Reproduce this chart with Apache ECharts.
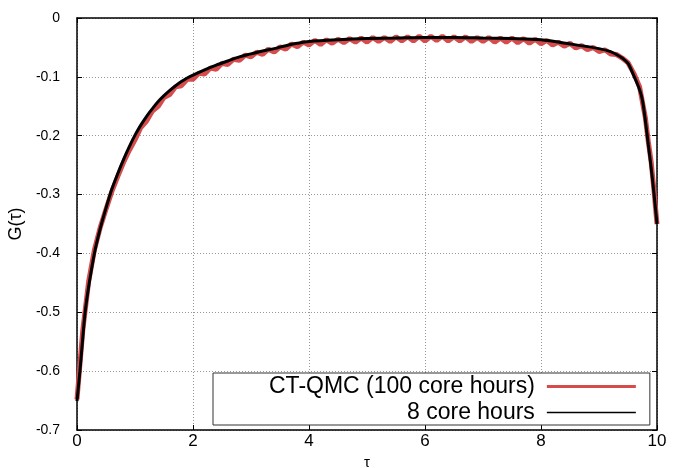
<!DOCTYPE html>
<html>
<head>
<meta charset="utf-8">
<script src="https://cdn.jsdelivr.net/npm/echarts@6/dist/echarts.min.js"></script>
<style>
html,body{margin:0;padding:0;background:#fff;}
#chart{width:680px;height:468px;}
</style>
</head>
<body>
<div id="chart"></div>
<script>
// Black curve: 8 core hours
const tauBlack = [0, 0.05, 0.1, 0.14, 0.2, 0.3, 0.4, 0.5, 0.6, 0.7, 0.8, 0.9, 1.0, 1.1, 1.2, 1.3, 1.4, 1.5, 1.6, 1.7, 1.8, 1.9, 2.0, 2.2, 2.4, 2.6, 2.8, 3.0, 3.2, 3.4, 3.6, 3.8, 4.0, 4.5, 5.0, 5.5, 6.0, 6.5, 7.0, 7.5, 8.0, 8.5, 9.0, 9.2, 9.3, 9.4, 9.5, 9.6, 9.7, 9.75, 9.8, 9.85, 9.9, 9.95, 10.0];
const gBlack = [-0.651, -0.600, -0.543, -0.500, -0.457, -0.400, -0.358, -0.323, -0.291, -0.265, -0.241, -0.219, -0.199, -0.182, -0.167, -0.154, -0.142, -0.132, -0.123, -0.115, -0.108, -0.102, -0.097, -0.088, -0.080, -0.073, -0.066, -0.061, -0.056, -0.052, -0.047, -0.043, -0.040, -0.037, -0.035, -0.034, -0.033, -0.033, -0.034, -0.035, -0.037, -0.044, -0.052, -0.057, -0.062, -0.068, -0.077, -0.098, -0.122, -0.140, -0.175, -0.215, -0.255, -0.300, -0.350];

// Red curve: CT-QMC (100 core hours), noisy
const tauRed = [0.0, 0.1, 0.2, 0.3, 0.4, 0.5, 0.6, 0.7, 0.8, 0.9, 1.0, 1.1, 1.2, 1.3, 1.4, 1.5, 1.6, 1.7, 1.8, 1.9, 2.0, 2.1, 2.2, 2.3, 2.4, 2.5, 2.6, 2.7, 2.8, 2.9, 3.0, 3.1, 3.2, 3.3, 3.4, 3.5, 3.6, 3.7, 3.8, 3.9, 4.0, 4.1, 4.2, 4.3, 4.4, 4.5, 4.6, 4.7, 4.8, 4.9, 5.0, 5.1, 5.2, 5.3, 5.4, 5.5, 5.6, 5.7, 5.8, 5.9, 6.0, 6.1, 6.2, 6.3, 6.4, 6.5, 6.6, 6.7, 6.8, 6.9, 7.0, 7.1, 7.2, 7.3, 7.4, 7.5, 7.6, 7.7, 7.8, 7.9, 8.0, 8.1, 8.2, 8.3, 8.4, 8.5, 8.6, 8.7, 8.8, 8.9, 9.0, 9.1, 9.2, 9.3, 9.4, 9.5, 9.6, 9.7, 9.8, 9.85, 9.9, 9.95, 10.0];
const gRed = [-0.648, -0.530, -0.448, -0.394, -0.356, -0.325, -0.295, -0.270, -0.246, -0.225, -0.207, -0.186, -0.175, -0.158, -0.150, -0.135, -0.130, -0.117, -0.115, -0.104, -0.104, -0.094, -0.095, -0.085, -0.087, -0.077, -0.079, -0.070, -0.072, -0.063, -0.066, -0.058, -0.062, -0.053, -0.058, -0.049, -0.053, -0.044, -0.049, -0.041, -0.046, -0.038, -0.045, -0.037, -0.043, -0.036, -0.042, -0.035, -0.041, -0.034, -0.041, -0.033, -0.040, -0.033, -0.040, -0.032, -0.039, -0.032, -0.039, -0.031, -0.039, -0.031, -0.038, -0.031, -0.039, -0.032, -0.039, -0.032, -0.040, -0.033, -0.040, -0.033, -0.041, -0.034, -0.041, -0.034, -0.042, -0.035, -0.043, -0.036, -0.044, -0.038, -0.046, -0.041, -0.048, -0.043, -0.051, -0.047, -0.054, -0.050, -0.057, -0.054, -0.061, -0.062, -0.068, -0.076, -0.094, -0.117, -0.170, -0.210, -0.245, -0.295, -0.350];

const seriesNames = ['CT-QMC (100 core hours)', '8 core hours'];
const xTitle = 'τ';
const yTitle = 'G(τ)';

const zip = (a, b) => a.map((v, i) => [v, b[i]]);
const FONT = 'Liberation Sans, Arial, Helvetica, sans-serif';
const RED = '#d64b4b';

const chart = echarts.init(document.getElementById('chart'), null, {renderer: 'canvas'});
const gridLine = {show: true, lineStyle: {color: '#999', type: [1, 2], width: 1}};
chart.setOption({
  animation: false,
  backgroundColor: '#fff',
  grid: {left: 77, right: 23, top: 18, bottom: 38, containLabel: false, outerBoundsMode: 'none'},
  xAxis: [{
    type: 'value', min: 0, max: 10, interval: 2,
    name: xTitle, nameLocation: 'middle', nameGap: 25,
    nameTextStyle: {fontFamily: FONT, fontSize: 15, color: '#000'},
    axisLine: {show: true, onZero: false, lineStyle: {color: '#000', width: 1.5}},
    axisTick: {show: true, inside: true, length: 5, lineStyle: {color: '#000', width: 1}},
    axisLabel: {fontFamily: FONT, fontSize: 17, color: '#000', margin: 3},
    splitLine: gridLine
  }, {
    type: 'value', min: 0, max: 10, interval: 2, position: 'top',
    axisLine: {show: true, onZero: false, lineStyle: {color: '#000', width: 1.5}},
    axisTick: {show: true, inside: true, length: 5, lineStyle: {color: '#000', width: 1}},
    axisLabel: {show: false}, splitLine: {show: false}
  }],
  yAxis: [{
    type: 'value', min: -0.7, max: 0, interval: 0.1,
    name: yTitle, nameLocation: 'middle', nameGap: 40, nameRotate: 90,
    nameTextStyle: {fontFamily: FONT, fontSize: 18, color: '#000'},
    axisLine: {show: true, onZero: false, lineStyle: {color: '#000', width: 1.5}},
    axisTick: {show: true, inside: true, length: 5, lineStyle: {color: '#000', width: 1}},
    axisLabel: {fontFamily: FONT, fontSize: 14, color: '#000', margin: 17,
      formatter: v => (Math.abs(v) < 1e-9 ? '0' : (+v.toFixed(1)).toString())},
    splitLine: gridLine
  }, {
    type: 'value', min: -0.7, max: 0, interval: 0.1, position: 'right',
    axisLine: {show: true, onZero: false, lineStyle: {color: '#000', width: 1.5}},
    axisTick: {show: true, inside: true, length: 5, lineStyle: {color: '#000', width: 1}},
    axisLabel: {show: false}, splitLine: {show: false}
  }],
  legend: {
    show: true, orient: 'vertical', align: 'right',
    left: 213, top: 373,
    padding: [2, 14, 1, 56],
    itemWidth: 89, itemHeight: 14, itemGap: 3,
    backgroundColor: '#fff', borderColor: '#333', borderWidth: 1,
    textStyle: {fontFamily: FONT, fontSize: 23, lineHeight: 22, color: '#000', padding: [0, 7, 0, 0]},
    data: [
      {name: seriesNames[0], icon: 'path://M0,0L89,0L89,3L0,3Z', itemStyle: {color: RED}},
      {name: seriesNames[1], icon: 'path://M0,0L89,0L89,1.5L0,1.5Z', itemStyle: {color: '#000'}}
    ]
  },
  series: [{
    name: seriesNames[0], type: 'line', data: zip(tauRed, gRed),
    symbol: 'none', lineStyle: {color: RED, width: 5}, itemStyle: {color: RED}, z: 2
  }, {
    name: seriesNames[1], type: 'line', data: zip(tauBlack, gBlack),
    symbol: 'none', smooth: 0.3, lineStyle: {color: '#000', width: 3}, itemStyle: {color: '#000'}, z: 3
  }]
});
</script>
</body>
</html>
